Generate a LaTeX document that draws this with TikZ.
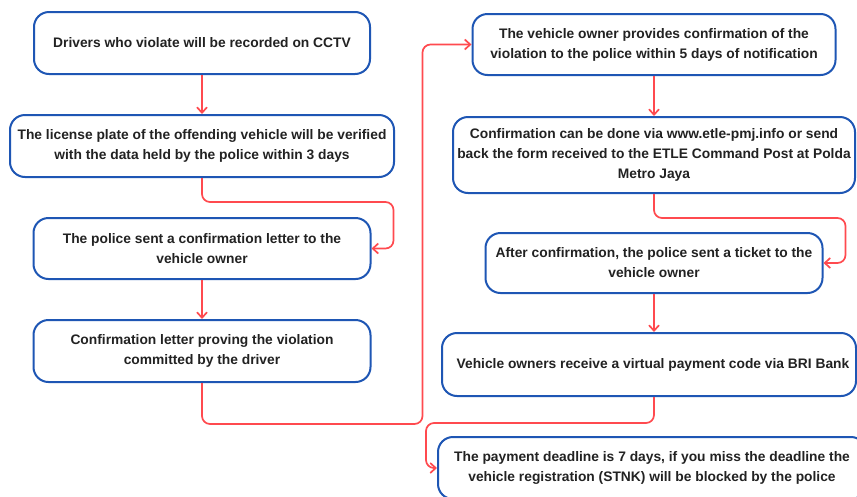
\documentclass[tikz,border=0pt]{standalone}
\usepackage{fontspec}
\setmainfont{Liberation Sans}
\usetikzlibrary{arrows.meta}
\definecolor{boxblue}{HTML}{1E56B4}
\definecolor{arrred}{HTML}{FF4A4F}
\definecolor{txt}{HTML}{222222}
\tikzset{
  stepbox/.style={draw=boxblue, line width=2pt, rounded corners=15pt, fill=white,
    align=center, text=txt, inner sep=0pt,
    font=\fontsize{13.8}{20}\selectfont\bfseries},
  conn/.style={draw=arrred, line width=1.7pt, rounded corners=8pt,
    -{Straight Barb[length=5.5pt,width=10pt,line width=1.7pt]}}
}
\begin{document}
\begin{tikzpicture}[x=1pt,y=-1pt]
\clip (0,0) rectangle (857,496);
\fill[white] (0,0) rectangle (857,496);
\node[stepbox, minimum width=336pt, minimum height=62pt] (b1) at (202,43)
  {Drivers who violate will be recorded on CCTV};
\node[stepbox, minimum width=384pt, minimum height=62pt] (b2) at (202,146)
  {The license plate of the offending vehicle will be verified\\with the data held by the police within 3 days};
\node[stepbox, minimum width=337pt, minimum height=61pt] (b3) at (202,248.5)
  {The police sent a confirmation letter to the\\vehicle owner};
\node[stepbox, minimum width=337pt, minimum height=62pt] (b4) at (202,351)
  {Confirmation letter proving the violation\\committed by the driver};
\node[stepbox, minimum width=363pt, minimum height=61pt] (b5) at (654,44.5)
  {The vehicle owner provides confirmation of the\\violation to the police within 5 days of notification};
\node[stepbox, minimum width=402pt, minimum height=76pt] (b6) at (654,155)
  {Confirmation can be done via www.etle-pmj.info or send\\back the form received to the ETLE Command Post at Polda\\Metro Jaya};
\node[stepbox, minimum width=337pt, minimum height=60pt] (b7) at (654,263)
  {After confirmation, the police sent a ticket to the\\vehicle owner};
\node[stepbox, minimum width=414pt, minimum height=63pt] (b8) at (649,364.5)
  {\hspace*{8pt}Vehicle owners receive a virtual payment code via BRI Bank};
\node[stepbox, minimum width=428pt, minimum height=62pt] (b9) at (652,468)
  {The payment deadline is 7 days, if you miss the deadline the\\vehicle registration (STNK) will be blocked by the police};
\draw[conn] (b1.south) -- (b2.north);
\draw[conn] (b2.south) -- ++(0,24) -| ([xshift=22pt]b3.east) -- (b3.east);
\draw[conn] (b3.south) -- (b4.north);
\draw[conn] (b4.south) -- ++(0,41) -| ([xshift=-49pt]b5.west) -- (b5.west);
\draw[conn] (b5.south) -- (b5.south |- b6.north);
\draw[conn] (b6.south) -- ++(0,24) -| ([xshift=22pt]b7.east) -- (b7.east);
\draw[conn] (b7.south) -- (b7.south |- b8.north);
\draw[conn] (b7.south |- b8.south) -- ++(0,26) -| ([xshift=-11pt]b9.west) -- (b9.west);
\end{tikzpicture}
\end{document}
